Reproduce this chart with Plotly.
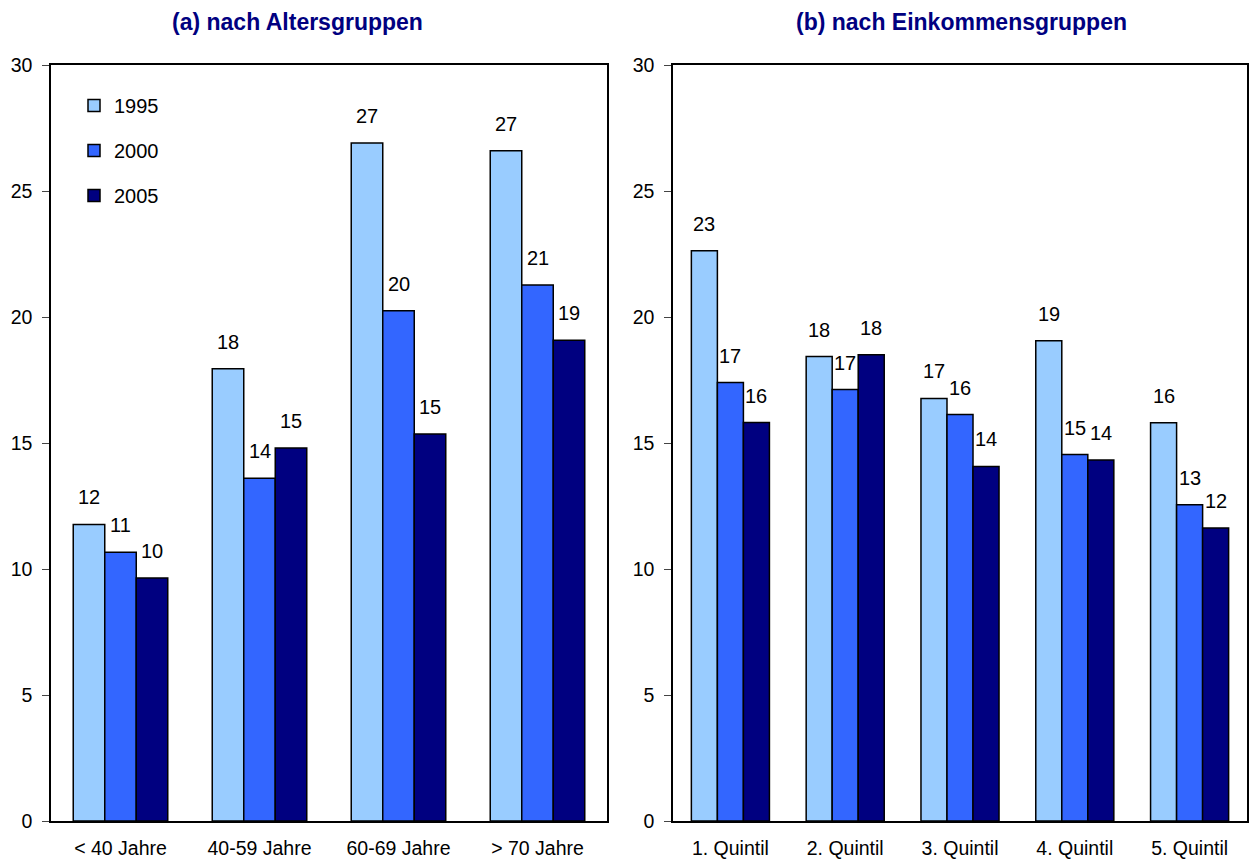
import plotly.graph_objects as go

# Categories
age_groups = ["< 40 Jahre", "40-59 Jahre", "60-69 Jahre", "> 70 Jahre"]
income_groups = ["1. Quintil", "2. Quintil", "3. Quintil", "4. Quintil", "5. Quintil"]
years = ["1995", "2000", "2005"]

# Values by age group
age_1995 = [11.77, 17.95, 26.9, 26.6]
age_2000 = [10.66, 13.6, 20.25, 21.27]
age_2005 = [9.64, 14.8, 15.36, 19.08]

# Values by income quintile
inc_1995 = [22.63, 18.43, 16.77, 19.06, 15.8]
inc_2000 = [17.4, 17.12, 16.13, 14.54, 12.55]
inc_2005 = [15.81, 18.5, 14.07, 14.33, 11.63]

colors = ["#99CCFF", "#3366FF", "#000080"]
FONT = "Liberation Sans, Arial, sans-serif"
BARGAP = 0.32

W, H = 1250, 861

fig = go.Figure()

panels = [
    ("x", "y", age_groups, [age_1995, age_2000, age_2005], True),
    ("x2", "y2", income_groups, [inc_1995, inc_2000, inc_2005], False),
]

annotations = []
for xa, ya, cats, series, show_leg in panels:
    n = len(series)
    bw = (1 - BARGAP) / n
    for k, (name, vals, col) in enumerate(zip(years, series, colors)):
        fig.add_trace(go.Bar(
            x=cats, y=vals, name=name, xaxis=xa, yaxis=ya,
            marker=dict(color=col, line=dict(color="black", width=1.5)),
            showlegend=show_leg, legendgroup=name,
            hoverinfo="skip",
        ))
        # value labels above each bar
        off = (k - (n - 1) / 2) * bw
        for i, v in enumerate(vals):
            annotations.append(dict(
                x=i + off, y=v, xref=xa, yref=ya,
                text=f"{v:.0f}", showarrow=False,
                yanchor="bottom", xanchor="center", yshift=14,
                font=dict(family=FONT, size=20, color="black"),
            ))

# panel titles
title_font = dict(family=FONT, size=23, color="#000080")
annotations.append(dict(x=297 / W, y=1 - 22 / H, xref="paper", yref="paper",
                        text="<b>(a) nach Altersgruppen</b>", showarrow=False,
                        xanchor="center", yanchor="middle", font=title_font))
annotations.append(dict(x=961 / W, y=1 - 22 / H, xref="paper", yref="paper",
                        text="<b>(b) nach Einkommensgruppen</b>", showarrow=False,
                        xanchor="center", yanchor="middle", font=title_font))

ydom = [1 - 821 / H, 1 - 65 / H]
axis_common = dict(showline=True, linecolor="black", linewidth=1.5, mirror=True,
                   showgrid=False, zeroline=False, automargin=False,
                   tickfont=dict(family=FONT, size=19.5, color="black"))

fig.update_layout(
    width=W, height=H,
    template="none",
    paper_bgcolor="white", plot_bgcolor="white",
    margin=dict(l=0, r=0, t=0, b=0),
    barmode="group", bargap=BARGAP, bargroupgap=0,
    font=dict(family=FONT, size=20, color="black"),
    xaxis=dict(domain=[51 / W, 607 / W], anchor="y", ticks="",
               ticklabelstandoff=9, **axis_common),
    xaxis2=dict(domain=[673 / W, 1247 / W], anchor="y2", ticks="",
                ticklabelstandoff=9, **axis_common),
    yaxis=dict(domain=ydom, anchor="x", range=[0, 30], dtick=5,
               ticks="outside", ticklen=7, tickcolor="#444", tickwidth=1,
               ticklabelstandoff=6, **axis_common),
    yaxis2=dict(domain=ydom, anchor="x2", range=[0, 30], dtick=5,
                ticks="outside", ticklen=7, tickcolor="#444", tickwidth=1,
                ticklabelstandoff=6, **axis_common),
    legend=dict(x=74 / W, y=1 - 86 / H, xanchor="left", yanchor="top",
                bgcolor="rgba(0,0,0,0)", tracegroupgap=16, traceorder="grouped",
                font=dict(family=FONT, size=20, color="black")),
    annotations=annotations,
)

fig.write_html("out.html")
